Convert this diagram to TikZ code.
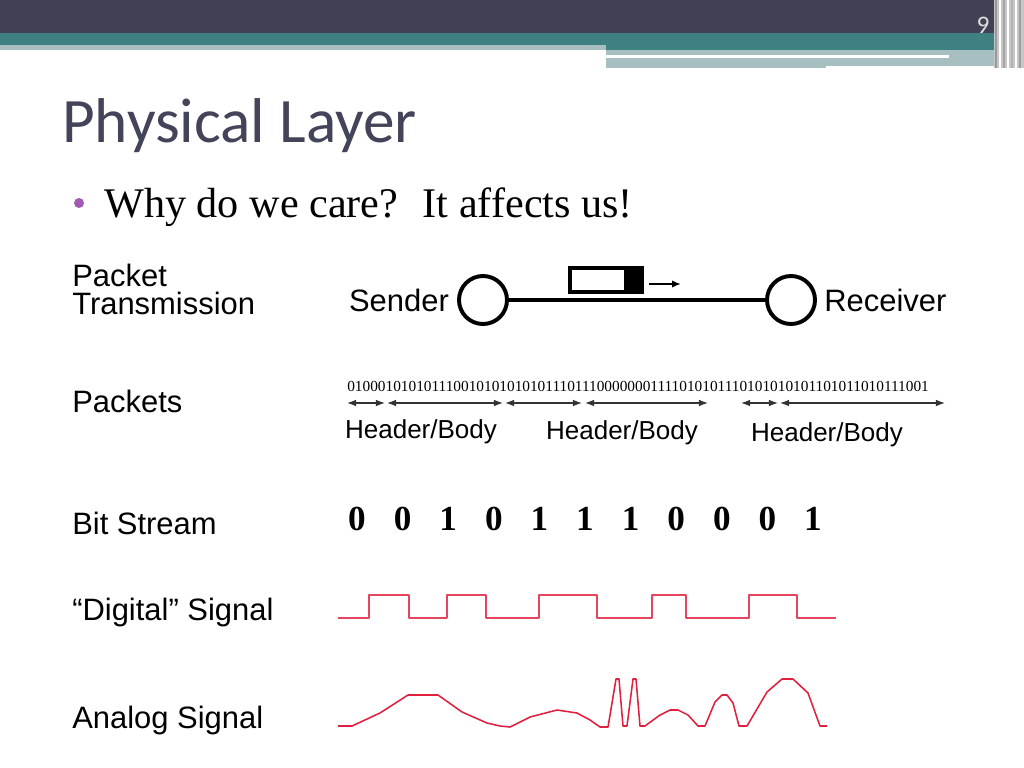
\documentclass[tikz,border=0pt]{standalone}
\usepackage{fontspec}
\usepackage{tikz}
\usetikzlibrary{positioning,arrows.meta}
\setmainfont{Liberation Serif}
\newfontfamily\arialfont{Liberation Sans}
\newfontfamily\titlefont{Carlito}
\definecolor{bardark}{HTML}{414155}
\definecolor{barteal}{HTML}{3F8082}
\definecolor{barlight}{HTML}{A7BFC1}
\definecolor{titlegray}{HTML}{43435A}
\definecolor{bulletpurple}{HTML}{A05BB4}
\definecolor{sigred}{HTML}{E6455E}
\definecolor{anared}{HTML}{E0203F}
\tikzset{
  rowlbl/.style={anchor=base west, align=left, inner sep=0pt,
    font=\arialfont\fontsize{22}{19.5}\selectfont},
  station/.style={circle, draw, line width=2.8pt, minimum size=1.2cm, inner sep=0pt},
  endlbl/.style={font=\arialfont\fontsize{22}{24}\selectfont},
  hb/.style={font=\arialfont\fontsize{18.5}{20}\selectfont},
  span/.style={{Latex[length=2.3mm,width=1.7mm]}-{Latex[length=2.3mm,width=1.7mm]},
    line width=0.9pt, black!80},
  sig/.style={line width=1.1pt, line join=round}
}

\begin{document}
\begin{tikzpicture}[x=0.025cm,y=-0.025cm]
    \useasboundingbox (0,0) rectangle (1024,768);
    \fill[white] (0,0) rectangle (1024,768);

    % top bar
    \fill[bardark] (0,0) rectangle (1024,33);
    \fill[barteal] (0,33) rectangle (1005,45);
    \fill[barlight] (0,45) rectangle (606,50);
    \fill[barteal] (606,45) rectangle (1005,50);
    \fill[barlight] (606,50) rectangle (1005,66);
    \fill[barlight] (606,66) rectangle (826,68);
    \fill[white] (606,55) rectangle (949,58);
    \fill[gray!45] (994,0) rectangle (1024,68);
    \foreach \x/\c in {996/gray!80, 1000/white, 1004/gray!70, 1008/white, 1012/gray!60, 1016/white, 1020/gray!75}
        \draw[\c, line width=1.2pt] (\x,0) -- (\x,68);
    \node[text=gray!25, font=\titlefont\fontsize{18}{18}\selectfont] (pageno) at (983,25) {9};

    % title and bullet
    \node[anchor=base west, inner sep=0pt, text=titlegray,
          font=\titlefont\fontsize{45}{50}\selectfont] (title) at (62,143) {Physical Layer};
    \fill[bulletpurple] (79,203) circle (5);
    \node[anchor=base west, inner sep=0pt, font=\fontsize{30}{34}\selectfont] (why) at (104,217)
        {Why do we care?~ It affects us!};

    % row labels
    \node[rowlbl] (lblpt) at (72,314) {Packet\\Transmission};
    \foreach \y/\tag in {412/Packets, 534/Bit Stream, 620/“Digital” Signal, 728/Analog Signal}
        \node[rowlbl] (lbl\y) at (72,\y) {\tag};

    % sender and receiver
    \node[station] (snd) at (483,300) {};
    \node[station] (rcv) at (791,300) {};
    \node[endlbl, left=0.08cm of snd] (sndlbl) {Sender};
    \node[endlbl, right=0.06cm of rcv] (rcvlbl) {Receiver};
    \draw[line width=3.5pt] (snd) -- (rcv);
    \node[draw, line width=2.8pt, minimum width=1.8cm, minimum height=0.6cm, inner sep=0pt] (pkt) at (606,280) {};
    \fill (624,268) rectangle (643,292);
    \coordinate (mv0) at (649,284);
    \coordinate (mv1) at (681,284);
    \draw[line width=1.4pt, -{Latex[length=2.2mm,width=1.8mm]}] (mv0) -- (mv1);

    % packets
    \node[anchor=west, inner sep=0pt, font=\fontsize{10.9}{12}\selectfont] (bits) at (347,386)
        {01000101010111001010101010111011100000001111010101110101010101101011010111001};
    \foreach \a/\b [count=\i] in {347/385, 387/503, 505/582, 585/708, 741/778, 780/945} {
        \coordinate (s\i) at (\a,403);
        \coordinate (e\i) at (\b,403);
        \draw[span] (s\i) -- (e\i);
    }
    \foreach \x/\y [count=\i] in {421/432, 622/433, 827/435}
        \node[hb] (hb\i) at (\x,\y) {Header/Body};

    % bit stream
    \foreach \d [count=\i] in {0,0,1,0,1,1,1,0,0,0,1}
        \node[font=\bfseries\fontsize{25}{28}\selectfont] (bit\i) at ({357+45.6*(\i-1)},519) {\d};

    % digital signal
    \draw[sig, sigred] (338,618) -- (369,618) -- (369,595) -- (409,595) -- (409,618)
        -- (447,618) -- (447,595) -- (486,595) -- (486,618) -- (539,618) -- (539,595)
        -- (597,595) -- (597,618) -- (652,618) -- (652,595) -- (686,595) -- (686,618)
        -- (749,618) -- (749,595) -- (797,595) -- (797,618) -- (836,618);

    % analog signal
    \draw[sig, anared] plot coordinates {(338,726) (352,726) (380,713) (408,695) (438,695)
        (462,712) (487,723) (500,726) (510,727) (530,717) (557,710) (577,713) (590,720)
        (600,727) (608,727) (616,679) (619,679) (623,726) (627,726) (633,679) (636,679)
        (640,726) (645,726) (660,715) (670,710) (678,710) (688,715) (698,726) (705,726)
        (715,702) (722,695) (727,695) (733,703) (739,726) (747,726) (767,692) (782,679)
        (793,679) (808,693) (820,726) (827,726)};

\end{tikzpicture}
\end{document}
